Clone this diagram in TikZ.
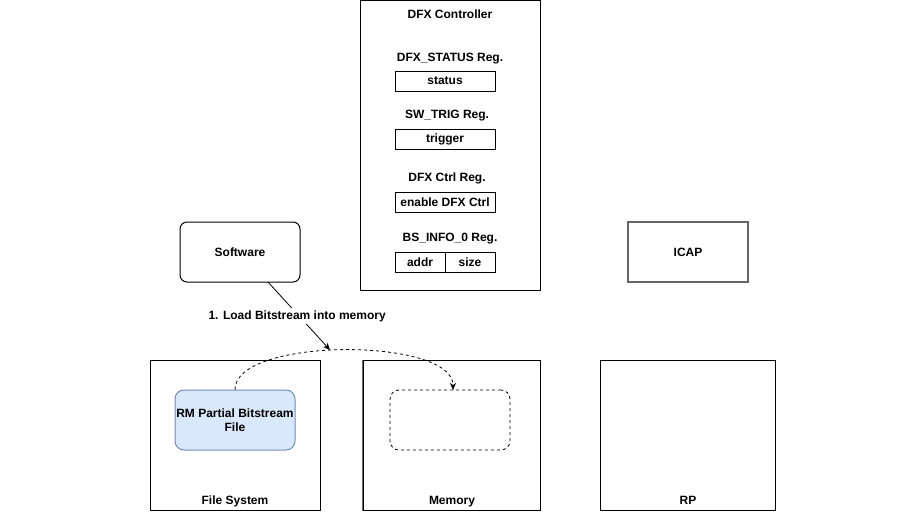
\documentclass[tikz,border=0pt]{standalone}
\usepackage{fontspec}
\setmainfont{Liberation Sans}
\usetikzlibrary{arrows.meta}
\definecolor{bluefill}{HTML}{DAE8FC}
\definecolor{blueline}{HTML}{6C8EBF}
\definecolor{grayline}{HTML}{666666}
\begin{document}
\begin{tikzpicture}[x=0.75pt,y=-0.75pt,
  every node/.style={font=\fontsize{9pt}{10.5pt}\selectfont\bfseries, text=black},
  reg/.style={draw=black, line width=0.75pt, minimum width=75pt, minimum height=15pt, inner sep=0pt},
  half/.style={draw=black, line width=0.75pt, minimum width=37.5pt, minimum height=15pt, inner sep=0pt},
  lbl/.style={inner sep=0pt, anchor=base},
  dsh/.style={dash pattern=on 2.25pt off 2.25pt, line width=0.6pt},
  arrowtip/.style={-{Stealth[length=5.25pt,width=4.5pt,inset=1.5pt]}}
]
\useasboundingbox (0,0) rectangle (920,511);
% DFX controller
\node[draw=black, line width=0.75pt, minimum width=135pt, minimum height=217.5pt, inner sep=0pt] (dfx) at (450,145) {};
\node[lbl] (dfxt) at (450,18.5) {DFX Controller};
\node[lbl] (stt) at (450,61) {DFX\_STATUS Reg.};
\node[reg] (st) at (445,81) {status};
\node[lbl] (swt) at (447,118.5) {SW\_TRIG Reg.};
\node[reg] (sw) at (445,139) {trigger};
\node[lbl] (ctt) at (447,181.5) {DFX Ctrl Reg.};
\node[reg] (ct) at (445,202) {enable DFX Ctrl};
\node[lbl] (bst) at (450,241.5) {BS\_INFO\_0 Reg.};
\node[half] (addr) at (420,262) {addr};
\node[half] (size) at (470,262) {size};
% Software
\node[draw=black, line width=0.75pt, rounded corners=5.25pt, minimum width=90pt, minimum height=45pt, inner sep=0pt] (soft) at (240,252) {Software};
% ICAP
\node[draw=grayline, line width=1pt, minimum width=90pt, minimum height=45pt, inner sep=0pt] (icap) at (688,252) {ICAP};
% File system
\node[draw=black, line width=0.75pt, minimum width=127.5pt, minimum height=112.5pt, inner sep=0pt] (fs) at (235,435) {};
\node[lbl] (fst) at (235,504) {File System};
\node[draw=blueline, fill=bluefill, line width=0.75pt, rounded corners=6.75pt, minimum width=90pt, minimum height=45pt, inner sep=0pt, align=center] (rm) at (235,420) {RM Partial Bitstream\\File};
% Memory
\node[draw=black, line width=0.75pt, minimum width=132.75pt, minimum height=112.5pt, inner sep=0pt] (mem) at (451.5,435) {};
\draw[grayline, line width=1.2pt] (mem.north west) -- (mem.south west);
\node[lbl] (memt) at (452,504) {Memory};
\node[draw=black, dsh, rounded corners=6.75pt, minimum width=90pt, minimum height=45pt, inner sep=0pt] (slot) at (450,420) {};
% RP
\node[draw=black, line width=0.75pt, minimum width=131.25pt, minimum height=112.5pt, inner sep=0pt] (rp) at (687.5,435) {};
\node[lbl] (rpt) at (688,504) {RP};
% connectors
\coordinate (swout) at (268,282);
\coordinate (loadtip) at (330,350);
\draw[line width=0.6pt, arrowtip] (swout) -- node[fill=white, inner sep=1.5pt, pos=0.47, yshift=-1.5pt] (loadlbl) {1. Load Bitstream into memory} (loadtip);
\coordinate (slottop) at (453,390);
\draw[dsh, arrowtip] (rm.north) .. controls (235,337) and (453,337) .. (slottop);
\end{tikzpicture}
\end{document}
